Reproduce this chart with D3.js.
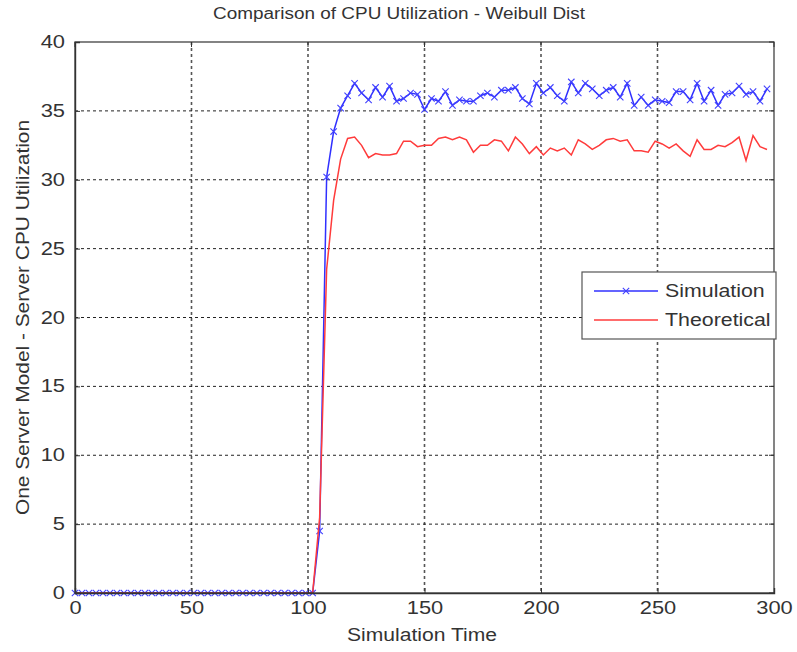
<!DOCTYPE html>
<html>
<head>
<meta charset="utf-8">
<script src="https://cdn.jsdelivr.net/npm/d3@7"></script>
<style>
  body { margin: 0; background: #fff; }
  text { font-family: "Liberation Sans", Arial, sans-serif; fill: #333; }
</style>
</head>
<body>
<script>
// simulation time (same sampling for both series)
var simTime = [0,3,6,9,12,15,18,21,24,27,30,33,36,39,42,45,48,51,54,57,60,63,66,69,72,75,78,81,84,87,90,93,96,99,102,
  105,108,111,114,117,120,123,126,129,132,135,138,141,144,147,150,153,156,159,162,165,168,171,174,177,180,183,186,189,192,195,198,
  201,204,207,210,213,216,219,222,225,228,231,234,237,240,243,246,249,252,255,258,261,264,267,270,273,276,279,282,285,288,291,294,297];

var simulation = [0,0,0,0,0,0,0,0,0,0,0,0,0,0,0,0,0,0,0,0,0,0,0,0,0,0,0,0,0,0,0,0,0,0,0,
  4.5,30.2,33.5,35.2,36.1,37.0,36.3,35.8,36.7,36.0,36.8,35.7,35.9,36.3,36.2,35.1,35.9,35.7,36.4,35.4,35.8,35.7,35.7,36.1,36.3,36.0,36.5,36.5,36.7,35.9,35.5,37.0,
  36.3,36.7,36.1,35.7,37.1,36.3,37.0,36.6,36.1,36.5,36.7,36.0,37.0,35.4,36.0,35.4,35.8,35.7,35.6,36.4,36.4,35.8,37.0,35.7,36.5,35.4,36.2,36.3,36.8,36.2,36.4,35.7,36.6];

var theoretical = [0,0,0,0,0,0,0,0,0,0,0,0,0,0,0,0,0,0,0,0,0,0,0,0,0,0,0,0,0,0,0,0,0,0,0,
  5.5,23.5,28.5,31.5,33.0,33.1,32.5,31.6,31.9,31.8,31.8,31.9,32.8,32.8,32.4,32.5,32.5,33.0,33.1,32.9,33.1,32.9,32.0,32.5,32.5,32.9,32.8,32.1,33.1,32.6,31.9,32.4,
  31.8,32.3,32.1,32.3,31.8,32.9,32.6,32.2,32.5,32.9,33.0,32.8,32.9,32.1,32.1,32.0,32.8,32.6,32.3,32.6,32.1,31.7,32.9,32.2,32.2,32.5,32.4,32.7,33.1,31.4,33.2,32.4,32.2];

var xTicks = [0,50,100,150,200,250,300];
var yTicks = [0,5,10,15,20,25,30,35,40];
var seriesNames = ["Simulation", "Theoretical"];

var W = 797, H = 652;
var m = {left: 75, right: 20, top: 42, bottom: 59};
var stretch = 1.25; // the reference text is drawn wide

var svg = d3.select("body").append("svg")
    .attr("width", W)
    .attr("height", H);

var x = d3.scaleLinear().domain([0,300]).range([m.left, W - m.right - 3]);
var y = d3.scaleLinear().domain([0,40]).range([H - m.bottom, m.top]);

var x0 = x.range()[0], x1 = x.range()[1], y0 = y.range()[0], y1 = y.range()[1];

// widen a text element keeping its anchor
function widen(sel, k) {
    sel.each(function(){
        var w = this.getComputedTextLength();
        d3.select(this).attr("textLength", w * k).attr("lengthAdjust", "spacingAndGlyphs");
    });
}

// grid
svg.append("g").selectAll("line.vg")
    .data(xTicks.slice(1, -1))
    .enter().append("line")
    .attr("x1", function(d){ return x(d); })
    .attr("x2", function(d){ return x(d); })
    .attr("y1", y1).attr("y2", y0)
    .attr("stroke", "#555").attr("stroke-width", 1.6)
    .attr("stroke-dasharray", "3,3");

svg.append("g").selectAll("line.hg")
    .data(yTicks.slice(1, -1))
    .enter().append("line")
    .attr("x1", x0).attr("x2", x1)
    .attr("y1", function(d){ return y(d); })
    .attr("y2", function(d){ return y(d); })
    .attr("stroke", "#222").attr("stroke-width", 1)
    .attr("stroke-dasharray", "3,3");

// lines
var line = d3.line()
    .x(function(d, i){ return x(simTime[i]); })
    .y(function(d){ return y(d); });

svg.append("path")
    .datum(simulation)
    .attr("d", line)
    .attr("fill", "none")
    .attr("stroke", "#3030ff")
    .attr("stroke-width", 1.5);

// x markers on simulation
var mk = 3.2;
svg.append("g").selectAll("path.mk")
    .data(simulation)
    .enter().append("path")
    .attr("d", function(d, i){
        var cx = x(simTime[i]), cy = y(d);
        return "M" + (cx-mk) + "," + (cy-mk) + "L" + (cx+mk) + "," + (cy+mk) +
               "M" + (cx-mk) + "," + (cy+mk) + "L" + (cx+mk) + "," + (cy-mk);
    })
    .attr("stroke", "#4040ff")
    .attr("stroke-width", 1.1)
    .attr("fill", "none");

svg.append("path")
    .datum(theoretical)
    .attr("d", line)
    .attr("fill", "none")
    .attr("stroke", "#ff3b3b")
    .attr("stroke-width", 1.5);

// box
svg.append("rect")
    .attr("x", x0).attr("y", y1)
    .attr("width", x1 - x0).attr("height", y0 - y1)
    .attr("fill", "none")
    .attr("stroke", "#333").attr("stroke-width", 1.2);

// axes (ticks inward)
var xAxis = d3.axisBottom(x).tickValues(xTicks).tickSize(-5).tickPadding(9);
var yAxis = d3.axisLeft(y).tickValues(yTicks).tickSize(-5).tickPadding(10);

var gx = svg.append("g").attr("transform", "translate(0," + y0 + ")").call(xAxis);
var gy = svg.append("g").attr("transform", "translate(" + x0 + ",0)").call(yAxis);

[gx, gy].forEach(function(g){
    g.select(".domain").attr("stroke", "#333").attr("stroke-width", 1.4);
    g.selectAll(".tick line").attr("stroke", "#333");
    g.selectAll(".tick text")
        .attr("font-size", 17.5)
        .attr("font-family", "Liberation Sans, Arial, sans-serif")
        .attr("fill", "#333")
        .call(widen, stretch);
});

// top / right ticks
svg.append("g").selectAll("line")
    .data(xTicks).enter().append("line")
    .attr("x1", function(d){ return x(d); }).attr("x2", function(d){ return x(d); })
    .attr("y1", y1).attr("y2", y1 + 5).attr("stroke", "#333");
svg.append("g").selectAll("line")
    .data(yTicks).enter().append("line")
    .attr("x1", x1).attr("x2", x1 - 5)
    .attr("y1", function(d){ return y(d); }).attr("y2", function(d){ return y(d); })
    .attr("stroke", "#333");

// title and labels
svg.append("text")
    .attr("x", 399).attr("y", 19)
    .attr("text-anchor", "middle")
    .attr("font-size", 16)
    .attr("textLength", 372).attr("lengthAdjust", "spacingAndGlyphs")
    .text("Comparison of CPU Utilization - Weibull Dist");

svg.append("text")
    .attr("x", 422).attr("y", 641)
    .attr("text-anchor", "middle")
    .attr("font-size", 17.5)
    .attr("textLength", 150).attr("lengthAdjust", "spacingAndGlyphs")
    .text("Simulation Time");

svg.append("text")
    .attr("transform", "translate(29," + ((y0 + y1) / 2) + ") rotate(-90)")
    .attr("text-anchor", "middle")
    .attr("font-size", 17.5)
    .attr("textLength", 395).attr("lengthAdjust", "spacingAndGlyphs")
    .text("One Server Model - Server CPU Utilization");

// legend
var lg = svg.append("g").attr("transform", "translate(582,272)");
lg.append("rect")
    .attr("width", 194).attr("height", 67)
    .attr("fill", "#fff").attr("stroke", "#555").attr("stroke-width", 1.2);

var legColors = ["#3030ff", "#ff3b3b"];
seriesNames.forEach(function(name, i){
    var ly = 19 + i * 29;
    lg.append("line")
        .attr("x1", 12).attr("x2", 76)
        .attr("y1", ly).attr("y2", ly)
        .attr("stroke", legColors[i]).attr("stroke-width", 1.5);
    if (i === 0) {
        lg.append("path")
            .attr("d", "M" + (44-mk) + "," + (ly-mk) + "L" + (44+mk) + "," + (ly+mk) +
                       "M" + (44-mk) + "," + (ly+mk) + "L" + (44+mk) + "," + (ly-mk))
            .attr("stroke", "#4040ff").attr("stroke-width", 1.1);
    }
    lg.append("text")
        .attr("x", 83).attr("y", ly)
        .attr("dy", "0.35em")
        .attr("font-size", 17.5)
        .text(name)
        .call(widen, 1.22);
});
</script>
</body>
</html>
